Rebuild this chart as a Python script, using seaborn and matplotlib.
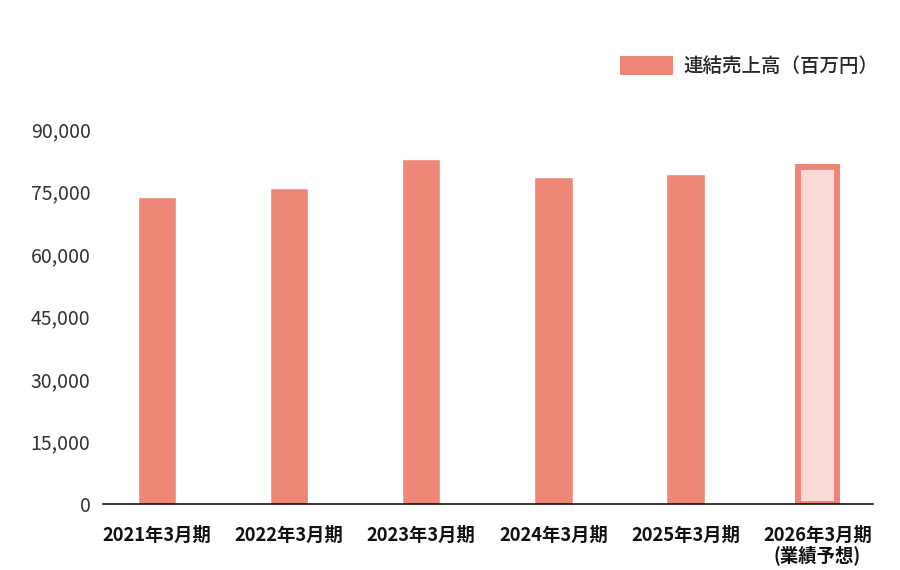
import matplotlib
matplotlib.use("Agg")
import matplotlib.pyplot as plt
import seaborn as sns
import pandas as pd
from matplotlib.patches import Patch
from matplotlib.ticker import FuncFormatter

categories = ["2021年3月期", "2022年3月期", "2023年3月期", "2024年3月期", "2025年3月期", "2026年3月期\n(業績予想)"]
sales = [73600, 75900, 82800, 78500, 79100, 80900]
yticks = [0, 15000, 30000, 45000, 60000, 75000, 90000]
legend_label = "連結売上高（百万円）"

MAIN = "#EE8677"
LIGHT = "#F9D9D6"

sns.set_theme(style="white")
plt.rcParams['font.family'] = ['Noto Sans CJK JP', 'DejaVu Sans']

df = pd.DataFrame({"cat": categories, "sales": sales})

fig = plt.figure(figsize=(9, 5.7), dpi=100)
ax = fig.add_axes([103/900, 1-504/570, 770/900, (504-129)/570])
sns.barplot(data=df, x="cat", y="sales", color=MAIN, saturation=1, width=0.29, ax=ax)

last = ax.patches[-1]
last.set_facecolor(LIGHT)
last.set_edgecolor(MAIN)
last.set_linewidth(6*72/100)

ax.set_xlim(-0.41, 5.42)
ax.set_ylim(0, 90000)
ax.set_yticks(yticks)
ax.yaxis.set_major_formatter(FuncFormatter(lambda v, p: f"{int(v):,}"))
ax.set_xlabel("")
ax.set_ylabel("")
for s in ["left", "top", "right"]:
    ax.spines[s].set_visible(False)
ax.spines["bottom"].set_color("black")
ax.spines["bottom"].set_linewidth(1.1)
ax.tick_params(axis="y", length=0, pad=9, labelsize=14, labelcolor="#333333")
ax.tick_params(axis="x", length=0, pad=16, labelsize=13.2, labelcolor="#111111")
for t in ax.get_xticklabels():
    t.set_fontweight("bold")
    t.set_linespacing(1.0)

fs = 14
px = fs * 100 / 72
h = Patch(facecolor=MAIN, edgecolor="none")
ax.legend(handles=[h], labels=[legend_label], loc="upper left",
          bbox_to_anchor=(620/900, 1-56/570), bbox_transform=fig.transFigure,
          frameon=False, handlelength=53/px, handleheight=22/px,
          handletextpad=10/px, borderpad=0, borderaxespad=0,
          prop={"weight": 500, "size": fs})

fig.savefig("out.png", dpi=100)
